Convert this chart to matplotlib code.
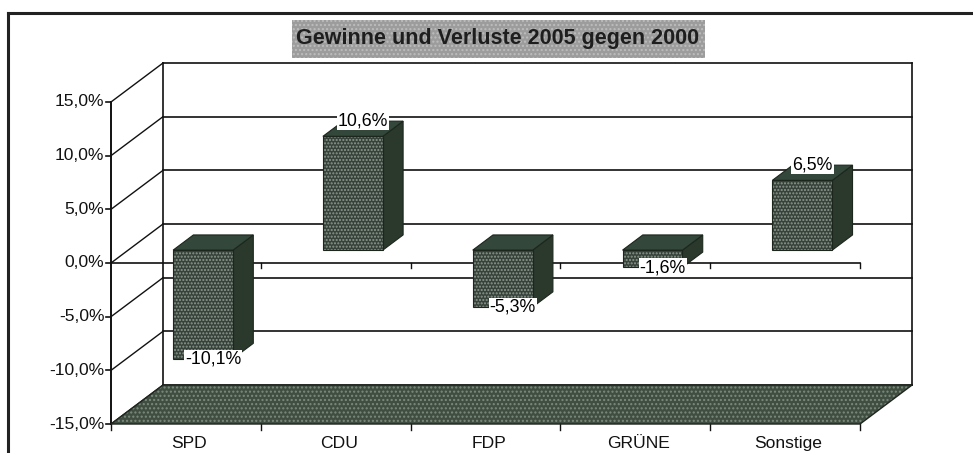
import matplotlib
matplotlib.use('Agg')
import matplotlib.pyplot as plt
from matplotlib.patches import Polygon, Rectangle

plt.rcParams['font.family'] = ['Liberation Sans', 'DejaVu Sans']
plt.rcParams['hatch.linewidth'] = 1.0

# data
parties = ['SPD', 'CDU', 'FDP', 'GRÜNE', 'Sonstige']
changes = [-10.1, 10.6, -5.3, -1.6, 6.5]
labels = ['-10,1%', '10,6%', '-5,3%', '-1,6%', '6,5%']
yticks = [15, 10, 5, 0, -5, -10, -15]
ytick_labels = ['15,0%', '10,0%', '5,0%', '0,0%', '-5,0%', '-10,0%', '-15,0%']
title = 'Gewinne und Verluste 2005 gegen 2000'

# oblique depth offset (full depth), in data units
DX, DY = 0.347, 3.63
F_FRONT, F_BACK = 0.33, 0.72
HALF_W = 0.2
YMIN, YMAX = -15, 15
N = len(parties)

INK = '#111111'
BAR_FRONT = '#36423a'
BAR_TOP = '#33473a'
BAR_SIDE = '#2a392c'
FLOOR = '#3f4e40'
SPECK = '#8e9a8f'

fig = plt.figure(figsize=(9.73, 4.53), dpi=100)
ax = fig.add_axes([0, 0, 1, 1])
ax.set_xlim(-0.741, 5.754)
ax.set_ylim(-17.70, 24.50)
ax.axis('off')


def shift(x, y, f):
    return (x + f * DX, y + f * DY)


def textured(pts, base, speck, z, hatch='.....'):
    ax.add_patch(Polygon(pts, closed=True, facecolor=base, edgecolor='none', zorder=z))
    ax.add_patch(Polygon(pts, closed=True, fill=False, hatch=hatch, edgecolor=speck,
                         linewidth=0, zorder=z + 0.01))


# back wall gridlines and side wall diagonals
for v, lab in zip(yticks, ytick_labels):
    bx0, by = shift(0, v, 1)
    bx1, _ = shift(N, v, 1)
    ax.plot([bx0, bx1], [by, by], color=INK, lw=1.2, zorder=1)
    ax.plot([0, bx0], [v, by], color=INK, lw=1.0, zorder=1)
    # front axis ticks
    ax.plot([-0.033, 0], [v, v], color=INK, lw=1.2, zorder=1)
    ax.text(-0.045, v, lab, ha='right', va='center', fontsize=12.6, color=INK)

for xe in (0, N):
    bx, by0 = shift(xe, YMIN, 1)
    _, by1 = shift(xe, YMAX, 1)
    ax.plot([bx, bx], [by0, by1], color=INK, lw=1.2, zorder=1)

# front value axis
ax.plot([0, 0], [YMIN, YMAX], color=INK, lw=1.4, zorder=1)

# floor
floor = [(0, YMIN), (N, YMIN), shift(N, YMIN, 1), shift(0, YMIN, 1)]
textured(floor, FLOOR, '#7d8b7e', 2, hatch='....')
ax.add_patch(Polygon(floor, closed=True, fill=False, edgecolor='#1f261f', lw=1.0, zorder=2.1))

# category axis at zero and ticks on floor edge
ax.plot([0, N], [0, 0], color=INK, lw=1.2, zorder=2)
for k in range(1, N + 1):
    ax.plot([k, k], [0, -0.5], color=INK, lw=1.0, zorder=2)
for k in range(0, N + 1):
    ax.plot([k, k], [YMIN, YMIN - 0.55], color=INK, lw=1.0, zorder=2)
for i, name in enumerate(parties):
    ax.text(i + 0.52, YMIN - 1.86, name, ha='center', va='center', fontsize=12.6, color=INK)

# bars
for i, v in enumerate(changes):
    c = i + 0.5
    lo, hi = min(0, v), max(0, v)
    xl, xr = c - HALF_W, c + HALF_W
    front = [shift(xl, lo, F_FRONT), shift(xr, lo, F_FRONT),
             shift(xr, hi, F_FRONT), shift(xl, hi, F_FRONT)]
    top = [shift(xl, hi, F_FRONT), shift(xr, hi, F_FRONT),
           shift(xr, hi, F_BACK), shift(xl, hi, F_BACK)]
    side = [shift(xr, lo, F_FRONT), shift(xr, lo, F_BACK),
            shift(xr, hi, F_BACK), shift(xr, hi, F_FRONT)]
    ax.add_patch(Polygon(side, closed=True, facecolor=BAR_SIDE, edgecolor='#1c261d', lw=0.8, zorder=3))
    ax.add_patch(Polygon(top, closed=True, facecolor=BAR_TOP, edgecolor='#1c261d', lw=0.8, zorder=3))
    textured(front, BAR_FRONT, SPECK, 3.1)
    ax.add_patch(Polygon(front, closed=True, fill=False, edgecolor='#1c261d', lw=0.8, zorder=3.2))

    mid = (F_FRONT + F_BACK) / 2
    lx, ly = shift(c, v, mid)
    ly += 0.75 if v >= 0 else -0.75
    ax.text(lx, ly, labels[i], ha='center', va='center', fontsize=12.8, color='black', zorder=5,
            bbox=dict(boxstyle='square,pad=0.05', facecolor='white', edgecolor='none'))

# title box
ax.add_patch(Rectangle((1.208, 19.10), 2.757, 3.54, facecolor='#9c9c9c', edgecolor='none', zorder=4))
ax.add_patch(Rectangle((1.208, 19.10), 2.757, 3.54, fill=False, hatch='....', edgecolor='#bdbdbd',
                       linewidth=0, zorder=4.01))
ax.text(2.583, 20.87, title, ha='center', va='center', fontsize=15.5, fontweight='bold',
        color='#1e1e1e', zorder=5)

# outer frame (top and left border of the scanned page)
ax.plot([-0.688, 5.754], [23.29, 23.29], color='#222222', lw=2.2, clip_on=False, zorder=6)
ax.plot([-0.688, -0.688], [23.29, -17.70], color='#222222', lw=2.2, clip_on=False, zorder=6)

fig.savefig('out.png', dpi=100, facecolor='white')
